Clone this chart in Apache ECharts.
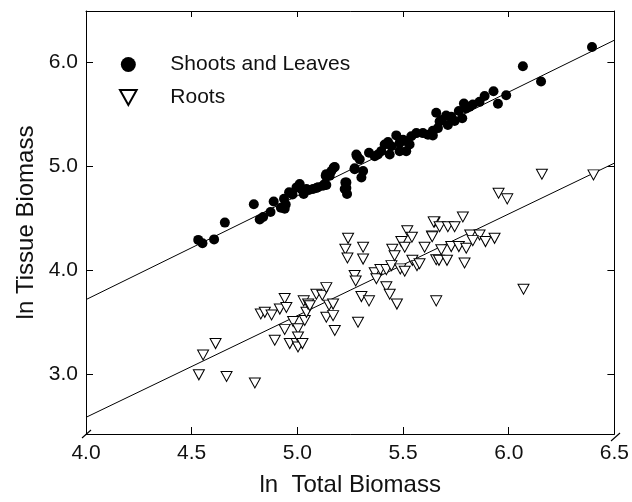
<!DOCTYPE html>
<html>
<head>
<meta charset="utf-8">
<script src="https://cdn.jsdelivr.net/npm/echarts@6/dist/echarts.min.js"></script>
<style>
html,body{margin:0;padding:0;background:#fff;}
#chart{width:632px;height:502px;}
</style>
</head>
<body>
<div id="chart"></div>
<script>
// ---- Data ----
var seriesNames = ['Shoots and Leaves', 'Roots'];

var shootsData = [
  [4.531,4.293],[4.551,4.261],[4.606,4.298],[4.657,4.459],[4.794,4.636],[4.822,4.488],
  [4.838,4.513],[4.873,4.561],[4.888,4.662],[4.922,4.601],[4.937,4.687],[4.940,4.592],
  [4.945,4.633],[4.961,4.750],[4.977,4.728],[4.996,4.797],[5.011,4.829],[5.019,4.781],
  [5.030,4.734],[5.043,4.781],[5.055,4.772],[5.090,4.791],[5.121,4.813],[5.137,4.820],
  [5.134,4.908],[5.153,4.908],[5.172,4.987],[5.227,4.845],[5.232,4.791],[5.235,4.734],
  [5.271,4.980],[5.282,5.097],[5.027,4.766],[5.074,4.782],[5.098,4.798],[5.129,4.829],
  [5.137,4.924],[5.161,4.955],[5.177,4.993],[5.224,4.782],[5.232,4.845],[5.303,4.892],
  [5.311,4.955],[5.271,4.971],[5.279,5.113],[5.295,5.066],[5.339,5.129],[5.366,5.097],
  [5.381,5.113],[5.397,5.145],[5.413,5.208],[5.437,5.113],[5.445,5.192],[5.429,5.233],
  [5.484,5.145],[5.515,5.145],[5.484,5.224],[5.468,5.296],[5.500,5.255],[5.515,5.239],
  [5.531,5.208],[5.539,5.287],[5.563,5.318],[5.594,5.318],[5.618,5.302],[5.641,5.296],
  [5.641,5.340],[5.665,5.366],[5.673,5.429],[5.657,5.514],[5.681,5.444],[5.712,5.397],
  [5.704,5.486],[5.728,5.476],[5.744,5.435],[5.780,5.460],[5.764,5.530],[5.799,5.555],
  [5.788,5.602],[5.815,5.571],[5.830,5.593],[5.862,5.618],[5.886,5.675],[5.928,5.719],
  [5.949,5.599],[5.988,5.681],[6.067,5.959],[6.153,5.814],[6.394,6.145]
];

var rootsData = [
  [4.534,2.998],[4.554,3.188],[4.613,3.298],[4.665,2.982],[4.799,2.919],[4.827,3.582],
  [4.846,3.598],[4.878,3.573],[4.893,3.330],[4.917,3.629],[4.940,3.730],[4.948,3.645],
  [4.940,3.434],[4.964,3.298],[4.980,3.510],[5.003,3.440],[4.996,3.298],[5.003,3.361],
  [5.003,3.266],[5.024,3.298],[5.030,3.708],[5.035,3.519],[5.043,3.598],[5.051,3.677],
  [5.059,3.661],[5.090,3.771],[5.118,3.762],[5.137,3.835],[5.137,3.551],[5.150,3.667],
  [5.169,3.677],[5.169,3.566],[5.177,3.424],[5.240,4.308],[5.227,4.204],[5.237,4.119],
  [5.311,4.223],[5.311,4.109],[5.271,3.951],[5.276,3.898],[5.287,3.503],[5.303,3.749],
  [5.339,3.708],[5.366,3.977],[5.374,3.920],[5.393,4.008],[5.421,4.008],[5.421,3.844],
  [5.437,3.771],[5.445,4.046],[5.449,4.204],[5.460,4.141],[5.471,3.677],[5.492,4.277],
  [5.487,4.015],[5.508,3.992],[5.508,4.223],[5.520,4.381],[5.542,4.318],[5.544,4.097],
  [5.566,4.046],[5.602,4.223],[5.637,4.330],[5.649,4.466],[5.657,4.103],[5.657,3.708],
  [5.578,4.065],[5.670,4.097],[5.708,4.097],[5.791,4.071],[5.681,4.198],[5.728,4.229],
  [5.764,4.229],[5.799,4.213],[5.638,4.324],[5.645,4.466],[5.673,4.419],[5.712,4.419],
  [5.744,4.419],[5.783,4.513],[5.818,4.340],[5.862,4.340],[5.830,4.286],[5.890,4.277],
  [5.933,4.308],[5.952,4.741],[5.993,4.687],[6.070,3.819],[6.157,4.924],[6.401,4.917]
];

// fitted regression lines (end points)
var fitShoots = [[4.0,3.72],[6.5,6.21]];
var fitRoots  = [[4.0,2.59],[6.5,5.03]];

var xTicks = [4.0, 4.5, 5.0, 5.5, 6.0, 6.5];
var yTicks = [3.0, 4.0, 5.0, 6.0];

var xTitle = 'ln  Total Biomass';
var yTitle = 'ln Tissue Biomass';

// ---- Chart ----
var FONT = '"Liberation Sans", Arial, Helvetica, sans-serif';
var chart = echarts.init(document.getElementById('chart'), null, {renderer: 'canvas'});
var triPath = 'path://M0,0 L10,0 L5,9 Z';

var lineAxis = {show: true, lineStyle: {color: '#000', width: 1}};
function fmt(v){ return Number(v).toFixed(1); }

var option = {
  backgroundColor: '#fff',
  animation: false,
  grid: {left: 86, right: 17, top: 11, bottom: 62, containLabel: false},
  legend: {
    orient: 'vertical',
    left: 114, top: 49,
    itemWidth: 74, itemHeight: 15, itemGap: 12,
    symbolKeepAspect: true,
    data: seriesNames,
    textStyle: {fontFamily: FONT, fontSize: 21, color: '#111'},
    selectedMode: false
  },
  xAxis: [{
    type: 'value', min: xTicks[0], max: xTicks[xTicks.length-1], interval: 0.5,
    position: 'bottom',
    axisLine: lineAxis,
    axisTick: {show: true, inside: true, length: 7, lineStyle: {color: '#000'}},
    axisLabel: {fontFamily: FONT, fontSize: 21, color: '#111', margin: 9, formatter: fmt},
    splitLine: {show: false},
    name: xTitle, nameLocation: 'middle', nameGap: 39,
    nameTextStyle: {fontFamily: FONT, fontSize: 24, color: '#111'}
  }, {
    type: 'value', min: xTicks[0], max: xTicks[xTicks.length-1], interval: 0.5,
    position: 'top',
    axisLine: lineAxis,
    axisTick: {show: true, inside: true, length: 6, lineStyle: {color: '#000'}},
    axisLabel: {show: false},
    splitLine: {show: false}
  }],
  yAxis: [{
    type: 'value', min: 2.43, max: 6.49,
    position: 'left',
    axisLine: lineAxis,
    axisTick: {show: true, inside: true, length: 7, customValues: yTicks, lineStyle: {color: '#000'}},
    axisLabel: {fontFamily: FONT, fontSize: 21, color: '#111', margin: 8, customValues: yTicks, formatter: fmt},
    splitLine: {show: false},
    name: yTitle, nameLocation: 'middle', nameGap: 40, nameRotate: 90,
    nameTextStyle: {fontFamily: FONT, fontSize: 24, color: '#111'}
  }, {
    type: 'value', min: 2.43, max: 6.49,
    position: 'right',
    axisLine: lineAxis,
    axisTick: {show: true, inside: true, length: 7, customValues: yTicks, lineStyle: {color: '#000'}},
    axisLabel: {show: false},
    splitLine: {show: false}
  }],
  series: [
    {
      name: 'fitShoots', type: 'line', data: fitShoots, showSymbol: false, silent: true,
      lineStyle: {color: '#000', width: 1}, z: 1
    },
    {
      name: 'fitRoots', type: 'line', data: fitRoots, showSymbol: false, silent: true,
      lineStyle: {color: '#000', width: 1}, z: 1
    },
    {
      name: seriesNames[0], type: 'scatter', data: shootsData,
      symbol: 'circle', symbolSize: 10,
      itemStyle: {color: '#000', opacity: 1}, z: 3
    },
    {
      name: seriesNames[1], type: 'scatter', data: rootsData,
      symbol: triPath, symbolSize: [11, 10],
      itemStyle: {color: '#fff', borderColor: '#000', borderWidth: 1, opacity: 1}, z: 2
    }
  ],
  graphic: [
    {type: 'line', shape: {x1: 82, y1: 438, x2: 91, y2: 430}, style: {stroke: '#000', lineWidth: 1.2}, z: 10},
    {type: 'line', shape: {x1: 611, y1: 441, x2: 620, y2: 433}, style: {stroke: '#000', lineWidth: 1.2}, z: 10}
  ]
};
chart.setOption(option);
</script>
</body>
</html>
